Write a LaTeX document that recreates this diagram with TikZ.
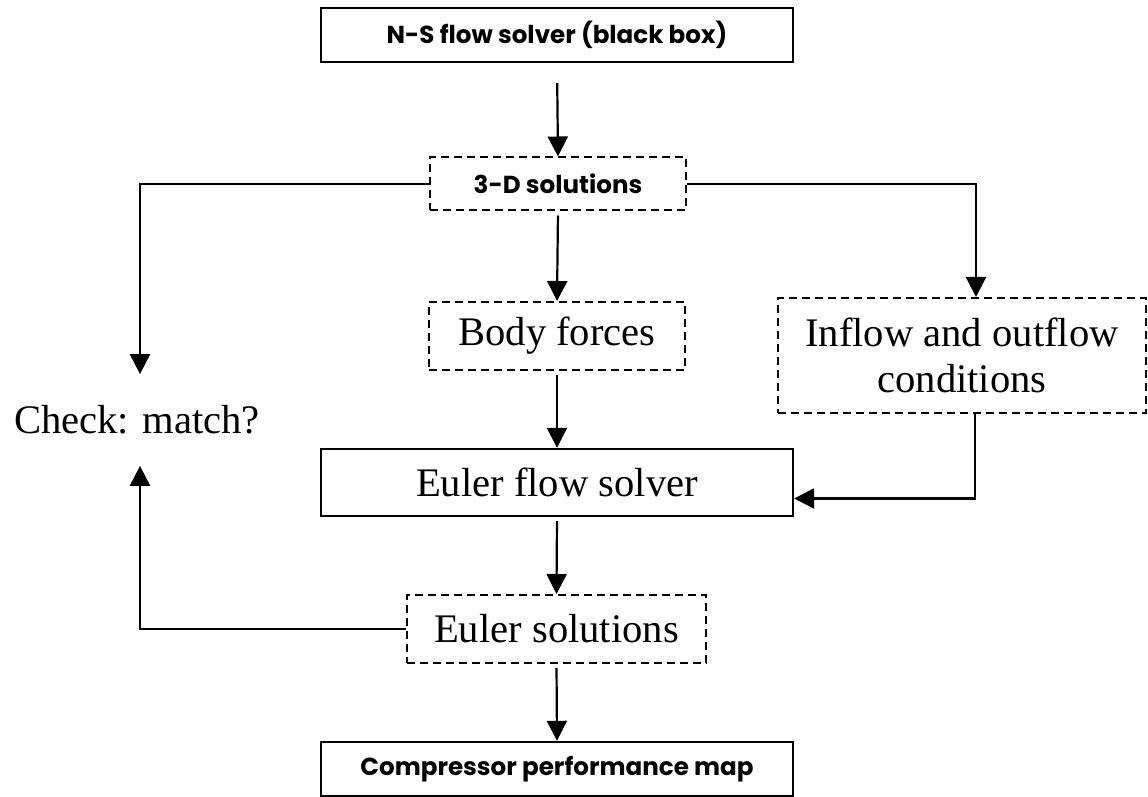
\documentclass[tikz,border=0pt]{standalone}
\usepackage{fontspec}
\setmainfont{Liberation Serif}
\newfontfamily\labelsans{Poppins}
\usetikzlibrary{arrows.meta,calc}

\begin{document}
\begin{tikzpicture}[
    x=0.5pt, y=-0.5pt,
    solidbox/.style={draw, line width=1.2pt, inner sep=0pt, minimum width=236pt},
    dashbox/.style={draw, line width=1pt, dash pattern=on 4pt off 2.5pt, inner sep=0pt},
    flow/.style={-{Triangle[width=10pt,length=10pt]}, line width=1.1pt},
    headtext/.style={font=\labelsans\bfseries\fontsize{12.3}{14}\selectfont},
    bodytext/.style={font=\fontsize{20.3}{23}\selectfont}
  ]
  \useasboundingbox (0,0) rectangle (1148,797);

  % main column
  \node[solidbox, headtext, minimum height=27pt] (ns) at (557,35) {N-S flow solver (black box)};
  \node[dashbox, headtext, minimum width=128pt, minimum height=26.5pt] (sol3d) at (558,184) {3-D solutions};
  \node[dashbox, bodytext, minimum width=128pt, minimum height=34pt] (body) at (557,336) {Body forces};
  \node[solidbox, bodytext, minimum height=33.5pt] (euler) at (557,482.5) {Euler flow solver};
  \node[dashbox, bodytext, minimum width=149.5pt, minimum height=34pt] (eusol) at (556.5,629) {Euler solutions};
  \node[solidbox, headtext, minimum height=27pt] (perf) at (557,769) {Compressor performance map};

  % side branches
  \node[dashbox, bodytext, align=center, minimum width=184pt, minimum height=57.5pt] (inflow) at (962,355.5)
    {Inflow and outflow\\conditions};
  \node[bodytext, inner sep=0pt, minimum height=45.5pt] (check) at (137,420) {Check: match?};

  \draw[flow, shorten <=10pt] (ns.south) -- (sol3d.north);
  \draw[flow] (sol3d.west) -| ($(check.north)+(3,0)$);
  \draw[flow] (sol3d.east) -| ($(inflow.north)+(14,0)$);
  \draw[flow, shorten <=2pt] (sol3d.south) -- (body.north);
  \draw[flow, shorten <=2pt] (body.south) -- (euler.north);
  \draw[flow] ($(inflow.south)+(13,0)$) |- ($(euler.east)+(0,16)$);
  \draw[flow, shorten <=2pt] (euler.south) -- (eusol.north);
  \draw[flow] (eusol.west) -| ($(check.south)+(3,0)$);
  \draw[flow, shorten <=2pt] (eusol.south) -- (perf.north);
\end{tikzpicture}
\end{document}
